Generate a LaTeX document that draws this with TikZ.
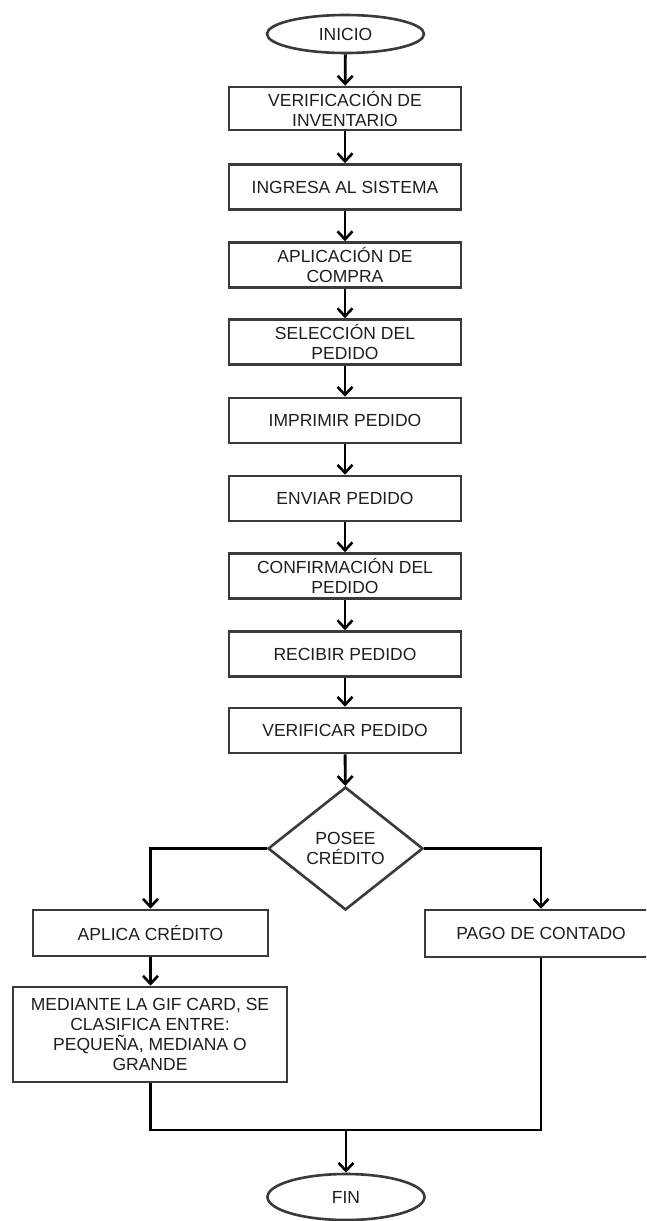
\documentclass[tikz,border=0pt]{standalone}
\usepackage{fontspec}
\setmainfont{Liberation Sans}
\usetikzlibrary{shapes.geometric,arrows.meta}
\definecolor{edgegray}{HTML}{3A3A3A}
\definecolor{inkgray}{HTML}{1E1E1E}
\tikzset{
  base/.style={draw=edgegray, line width=2.6pt, fill=white, text=inkgray,
    font=\fontsize{17.5}{20}\selectfont, align=center, inner sep=0pt},
  stepbox/.style={base, rectangle, minimum width=232pt, minimum height=45pt},
  terminal/.style={base, ellipse, minimum width=157pt, minimum height=38pt},
  decision/.style={base, diamond, minimum width=155pt, minimum height=123pt},
  flow/.style={draw=black, line width=2.8pt,
    -{Straight Barb[length=8pt,width=15pt,line width=2.6pt]}},
  joinline/.style={draw=black, line width=2.8pt}
}
\begin{document}
\begin{tikzpicture}[x=1pt,y=-1pt]
  \useasboundingbox (0,0) rectangle (646,1221);
  \clip (0,0) rectangle (646,1221);

  % main column
  \node[terminal] (inicio) at (345.5,34) {INICIO};
  \node[stepbox, minimum height=43pt] (s1) at (345,108.5) {VERIFICACIÓN DE\\INVENTARIO};
  \node[stepbox] (s2) at (345,187) {INGRESA AL SISTEMA};
  \node[stepbox] (s3) at (345,265) {APLICACIÓN DE\\COMPRA};
  \node[stepbox] (s4) at (345,342) {SELECCIÓN DEL\\PEDIDO};
  \node[stepbox] (s5) at (345,420.5) {IMPRIMIR PEDIDO};
  \node[stepbox] (s6) at (345,498.5) {ENVIAR PEDIDO};
  \node[stepbox] (s7) at (345,576) {CONFIRMACIÓN DEL\\PEDIDO};
  \node[stepbox] (s8) at (345,654) {RECIBIR PEDIDO};
  \node[stepbox] (s9) at (345,730.5) {VERIFICAR PEDIDO};

  % decision and branches
  \node[decision] (dec) at (345.5,848.5) {POSEE\\CRÉDITO};
  \node[stepbox, minimum width=235pt, minimum height=46pt] (apl) at (150.5,933) {APLICA CRÉDITO};
  \node[stepbox, minimum height=47pt] (pago) at (541,933.5) {PAGO DE CONTADO};
  \node[stepbox, minimum width=274pt, minimum height=95pt] (gif) at (150,1034.5)
    {MEDIANTE LA GIF CARD, SE\\CLASIFICA ENTRE:\\PEQUEÑA, MEDIANA O\\GRANDE};
  \node[terminal, minimum height=46pt] (fin) at (346,1197) {FIN};

  \coordinate (merge) at (346,1130);

  % connectors
  \draw[flow] (inicio) -- (s1);
  \draw[flow] (s1) -- (s2);
  \draw[flow] (s2) -- (s3);
  \draw[flow] (s3) -- (s4);
  \draw[flow] (s4) -- (s5);
  \draw[flow] (s5) -- (s6);
  \draw[flow] (s6) -- (s7);
  \draw[flow] (s7) -- (s8);
  \draw[flow] (s8) -- (s9);
  \draw[flow] (s9) -- (dec);
  \draw[flow] (dec.west) -| (apl.north);
  \draw[flow] (dec.east) -| (pago.north);
  \draw[flow] (apl) -- (gif.north -| apl.south);
  \draw[joinline] (gif.south -| apl.south) |- (merge) -| (pago.south);
  \draw[flow] (merge) -- (fin.north);
\end{tikzpicture}
\end{document}
